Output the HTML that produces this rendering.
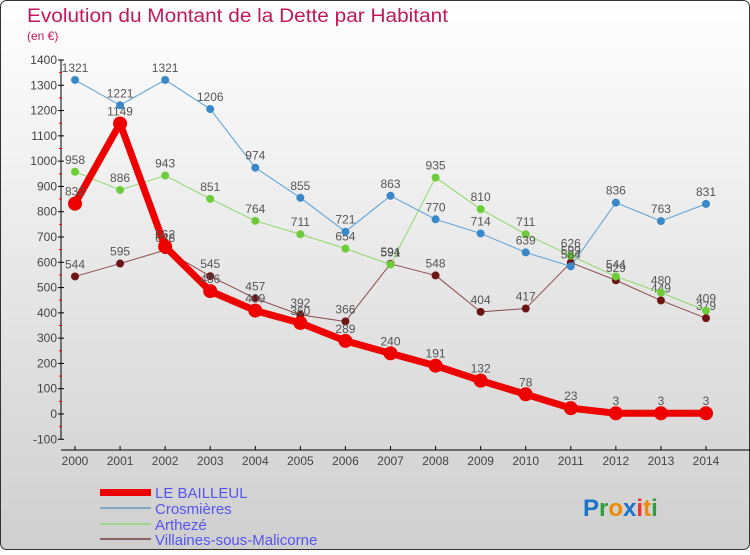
<!DOCTYPE html>
<html><head><meta charset="utf-8"><style>
body{margin:0;width:750px;height:550px;overflow:hidden;font-family:"Liberation Sans",sans-serif}
</style></head><body>
<svg id="c" width="750" height="550" xmlns="http://www.w3.org/2000/svg">
<defs><linearGradient id="bg" x1="0" y1="0" x2="0" y2="1"><stop offset="0" stop-color="#ffffff"/><stop offset="1" stop-color="#cfcfcf"/></linearGradient></defs>
<rect x="0.5" y="0.5" width="749" height="549" rx="6" fill="url(#bg)" stroke="#333"/>
<text x="27" y="22" font-size="19" fill="#c2185b" textLength="421" lengthAdjust="spacingAndGlyphs">Evolution du Montant de la Dette par Habitant</text>
<text x="27" y="40" font-size="12" fill="#c2185b">(en €)</text>
<g id="axes"></g><g id="series"></g>
<g>
<rect x="100" y="489" width="51" height="7" fill="#e00"/>
<text x="155" y="498" font-size="15" fill="#5555ee">LE BAILLEUL</text>
<rect x="100" y="507" width="51" height="2" fill="#7fa8c8"/>
<text x="155" y="514" font-size="15" fill="#5555ee">Crosmières</text>
<rect x="100" y="523" width="51" height="2" fill="#9fd68a"/>
<text x="155" y="530" font-size="15" fill="#5555ee">Arthezé</text>
<rect x="100" y="538" width="51" height="2" fill="#8a6262"/>
<text x="155" y="545" font-size="15" fill="#5555ee">Villaines-sous-Malicorne</text>
</g>
<text x="583" y="516" font-size="24" font-weight="bold"><tspan fill="#1a75c9">P</tspan><tspan fill="#2e9e3e">r</tspan><tspan fill="#f08a00">o</tspan><tspan fill="#1a75c9">x</tspan><tspan fill="#e33">i</tspan><tspan fill="#f08a00">t</tspan><tspan fill="#2e9e3e">i</tspan></text>
</svg>
<script>
const years=[2000,2001,2002,2003,2004,2005,2006,2007,2008,2009,2010,2011,2012,2013,2014];
const yTicks=[-100,0,100,200,300,400,500,600,700,800,900,1000,1100,1200,1300,1400];
const leBailleul=[832,1149,662,486,409,360,289,240,191,132,78,23,3,3,3];
const crosmieres=[1321,1221,1321,1206,974,855,721,863,770,714,639,584,836,763,831];
const artheze=[958,886,943,851,764,711,654,591,935,810,711,626,544,480,409];
const villaines=[544,595,648,545,457,392,366,594,548,404,417,599,529,449,379];
const NS="http://www.w3.org/2000/svg";
const X=i=>75+i*(706-75)/(years.length-1);
const Y=v=>414-v*(354/1400);
function mk(p,t,a){const e=document.createElementNS(NS,t);for(const k in a)e.setAttribute(k,a[k]);p.appendChild(e);return e;}
const ax=document.getElementById('axes');
let e=mk(ax,'line',{x1:61,y1:Y(1400),x2:61,y2:Y(-100),stroke:'#000'});


yTicks.forEach(v=>{
  mk(ax,'line',{x1:58,x2:64,y1:Y(v),y2:Y(v),stroke:'#000'});
  if(v<1400) mk(ax,'line',{x1:59,x2:62,y1:Y(v+50),y2:Y(v+50),stroke:'#e00'});
  const t=mk(ax,'text',{x:57,y:Y(v)+4,'font-size':12,'text-anchor':'end',fill:'#444'});
  t.textContent=v;
  
  
});
e=mk(ax,'line',{x1:61,y1:450,x2:750,y2:450,stroke:'#000'});


years.forEach((y,i)=>{
  mk(ax,'line',{x1:X(i),x2:X(i),y1:446,y2:450,stroke:'#000'});
  const t=mk(ax,'text',{x:X(i),y:465,'font-size':12,'text-anchor':'middle',fill:'#444'});
  t.textContent=y;
  
  
});
const sg=document.getElementById('series');
function draw(name,vals,color,dot,w,r){
  const g=mk(sg,'g',{});
  
  
  mk(g,'polyline',{points:vals.map((v,i)=>X(i)+','+Y(v)).join(' '),fill:'none',stroke:color,'stroke-width':w,'stroke-linejoin':'round'});
  vals.forEach((v,i)=>{
    const c=mk(g,'circle',{cx:X(i),cy:Y(v),r:r,fill:dot});
    
    
    const t=mk(g,'text',{x:X(i),y:Y(v)-8,'font-size':12,'text-anchor':'middle',fill:'#555'});
    t.textContent=v;
    
    
  });
}
draw('villaines',villaines,'#8a4a4a','#6b1515',1,4);
draw('artheze',artheze,'#8fd86a','#6ccc3a',1,4);
draw('crosmieres',crosmieres,'#5a9fd6','#3a88c8',1,4);
draw('le-bailleul',leBailleul,'#ee0000','#ee0000',7,7);
</script>
</body></html>
